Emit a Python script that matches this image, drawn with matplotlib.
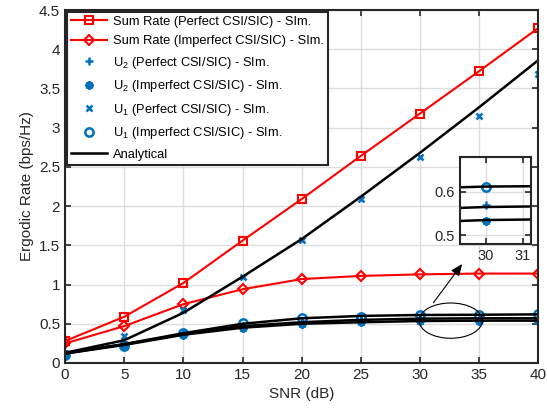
import numpy as np
import matplotlib
matplotlib.use("Agg")
import matplotlib.pyplot as plt
from matplotlib.patches import Ellipse

plt.rcParams['font.family'] = ['Liberation Sans', 'DejaVu Sans']
plt.rcParams['mathtext.default'] = 'regular'

snr = [0, 5, 10, 15, 20, 25, 30, 35, 40]

# simulated values
sum_perf = [0.28, 0.59, 1.02, 1.56, 2.09, 2.64, 3.18, 3.72, 4.27]
sum_imp = [0.25, 0.47, 0.75, 0.94, 1.07, 1.11, 1.13, 1.14, 1.14]
u2_perf = [0.12, 0.27, 0.38, 0.47, 0.52, 0.55, 0.57, 0.57, 0.57]
u2_imp = [0.12, 0.23, 0.36, 0.45, 0.50, 0.52, 0.533, 0.535, 0.54]
u1_perf = [0.13, 0.35, 0.68, 1.10, 1.57, 2.09, 2.63, 3.15, 3.69]
u1_imp = [0.10, 0.22, 0.38, 0.51, 0.57, 0.59, 0.61, 0.61, 0.62]

# analytical curves
an_u1_perf = [0.13, 0.29, 0.64, 1.10, 1.58, 2.12, 2.68, 3.26, 3.86]
an_u1_imp = [0.13, 0.24, 0.38, 0.50, 0.57, 0.60, 0.612, 0.615, 0.62]
an_u2_perf = [0.12, 0.24, 0.37, 0.47, 0.52, 0.55, 0.565, 0.57, 0.57]
an_u2_imp = [0.12, 0.23, 0.36, 0.45, 0.50, 0.52, 0.535, 0.54, 0.54]

red = '#FF0000'
blue = '#0072BD'
dark = '#262626'
gridc = '#dedede'


def draw(ax):
    ax.plot(snr, sum_perf, '-s', color=red, lw=1.5, ms=5.5, mfc='none', mew=1.5,
            label='Sum Rate (Perfect CSI/SIC) - SIm.')
    ax.plot(snr, sum_imp, '-D', color=red, lw=1.5, ms=5.5, mfc='none', mew=1.5,
            label='Sum Rate (Imperfect CSI/SIC) - SIm.')
    ax.plot(snr, u2_perf, '+', color=blue, ms=6, mew=1.8, ls='none',
            label='U$_2$ (Perfect CSI/SIC) - SIm.')
    ax.plot(snr, u2_imp, marker=(8, 2, 0), color=blue, ms=6, mew=1.6, ls='none',
            label='U$_2$ (Imperfect CSI/SIC) - SIm.')
    ax.plot(snr, u1_perf, 'x', color=blue, ms=4.5, mew=1.8, ls='none',
            label='U$_1$ (Perfect CSI/SIC) - SIm.')
    ax.plot(snr, u1_imp, 'o', color=blue, ms=6, mfc='none', mew=1.8, ls='none',
            label='U$_1$ (Imperfect CSI/SIC) - SIm.')
    ax.plot(snr, an_u1_perf, '-', color='black', lw=1.8, label='Analytical')
    ax.plot(snr, an_u1_imp, '-', color='black', lw=1.8)
    ax.plot(snr, an_u2_perf, '-', color='black', lw=1.8)
    ax.plot(snr, an_u2_imp, '-', color='black', lw=1.8)
    ax.grid(True, color=gridc, lw=1.0)
    ax.set_axisbelow(True)
    ax.tick_params(direction='in', top=True, right=True, colors=dark,
                   labelcolor=dark, length=4, width=1.2)
    for s in ax.spines.values():
        s.set_color(dark)
        s.set_linewidth(1.5)


fig = plt.figure(figsize=(5.47, 4.17), dpi=100)
ax = fig.add_axes([0.119, 0.1295, 0.865, 0.8465])
draw(ax)
ax.set_xlim(0, 40)
ax.set_ylim(0, 4.5)
ax.set_xticks(np.arange(0, 41, 5))
ax.set_yticks(np.arange(0, 4.51, 0.5))
ax.set_yticklabels(['0', '0.5', '1', '1.5', '2', '2.5', '3', '3.5', '4', '4.5'])
ax.tick_params(labelsize=11)
ax.set_xlabel('SNR (dB)', fontsize=11, color=dark)
ax.set_ylabel('Ergodic Rate (bps/Hz)', fontsize=11, color=dark)

leg = ax.legend(loc='upper left', fontsize=9.3, frameon=True, fancybox=False,
                borderaxespad=0.15, handlelength=2.8, labelspacing=0.58,
                borderpad=0.3, handletextpad=0.45)
leg.get_frame().set_edgecolor(dark)
leg.get_frame().set_linewidth(1.5)
leg.get_frame().set_alpha(1)

ax.add_patch(Ellipse((32.6, 0.54), 5.35, 0.45, fill=False, ec='black', lw=0.8, zorder=5))
ax.annotate('', xy=(33.7, 1.29), xytext=(31.0, 0.74),
            arrowprops=dict(arrowstyle='-|>,head_length=0.7,head_width=0.3',
                            color='black', lw=0.8))

ins = fig.add_axes([0.841, 0.415, 0.130, 0.2085])
draw(ins)
ins.set_xlim(29.3, 31.22)
ins.set_ylim(0.48, 0.68)
ins.set_xticks([30, 31])
ins.set_yticks([0.5, 0.6])
ins.set_yticklabels(['0.5', '0.6'])
ins.tick_params(labelsize=10.5)

fig.savefig('out.png', dpi=100)
